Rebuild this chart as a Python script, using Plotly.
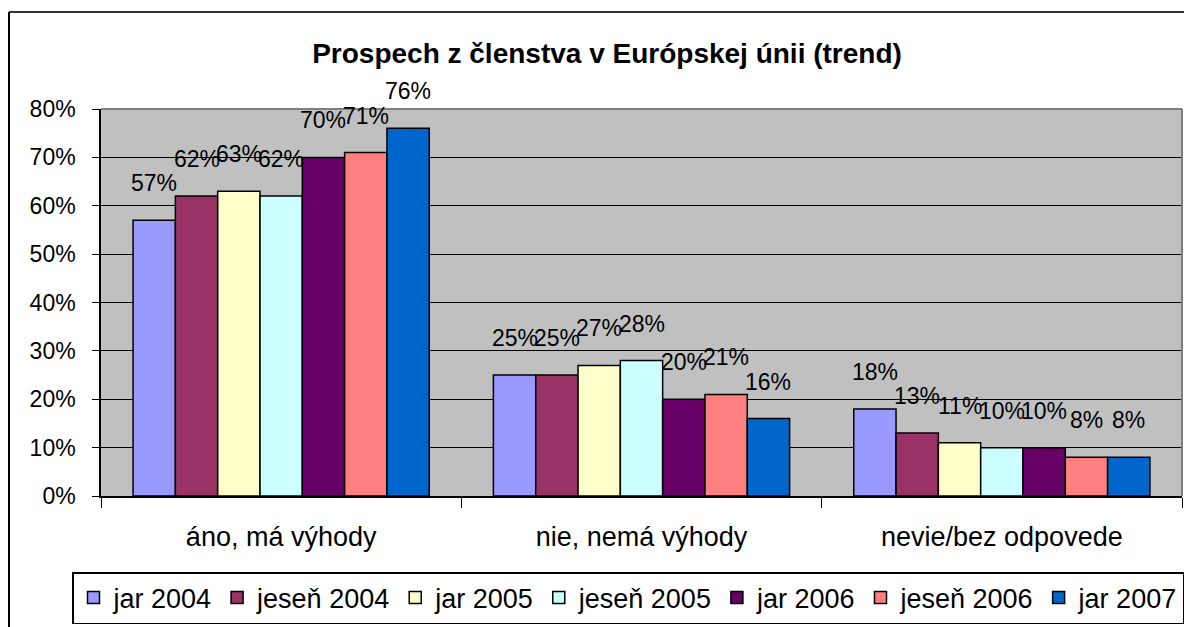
import plotly.graph_objects as go

categories = ["áno, má výhody", "nie, nemá výhody", "nevie/bez odpovede"]
series_names = ["jar 2004", "jeseň 2004", "jar 2005", "jeseň 2005", "jar 2006", "jeseň 2006", "jar 2007"]
jar_2004 = [0.57, 0.25, 0.18]
jesen_2004 = [0.62, 0.25, 0.13]
jar_2005 = [0.63, 0.27, 0.11]
jesen_2005 = [0.62, 0.28, 0.10]
jar_2006 = [0.70, 0.20, 0.10]
jesen_2006 = [0.71, 0.21, 0.08]
jar_2007 = [0.76, 0.16, 0.08]
series_values = [jar_2004, jesen_2004, jar_2005, jesen_2005, jar_2006, jesen_2006, jar_2007]
colors = ["#9999FF", "#993366", "#FFFFCC", "#CCFFFF", "#660066", "#FF8080", "#0066CC"]
y_tickvals = [0, 0.1, 0.2, 0.3, 0.4, 0.5, 0.6, 0.7, 0.8]

W, H = 1184, 627
L, R, T, B = 101, 1182, 109, 496
BARGAP = 0.178
FONT = "Liberation Sans, Arial, sans-serif"

def px_x(px):
    return (px - L) / (R - L)

def px_y(py):
    return (B - py) / (B - T)

fig = go.Figure()
for name, vals, col in zip(series_names, series_values, colors):
    fig.add_trace(go.Bar(
        name=name, x=categories, y=vals,
        marker=dict(color=col, line=dict(color="black", width=1.5)),
        hoverinfo="skip",
    ))

# data labels as annotations, offset like the grouped bars
group_px = (R - L) / len(categories)
bar_px = group_px * (1 - BARGAP) / len(series_names)
n = len(series_names)
for i, vals in enumerate(series_values):
    xshift = (i - (n - 1) / 2) * bar_px
    for c, v in zip(categories, vals):
        fig.add_annotation(
            x=c, y=v, xref="x", yref="y", text=f"{round(v*100)}%",
            showarrow=False, yanchor="bottom", xanchor="center",
            xshift=xshift, yshift=22,
            font=dict(family=FONT, size=23, color="black"),
        )

# plot area top/right gray border
fig.add_shape(type="line", xref="paper", yref="paper", x0=0, x1=1, y0=1, y1=1,
              line=dict(color="#808080", width=2))
fig.add_shape(type="line", xref="paper", yref="paper", x0=1, x1=1, y0=0, y1=1,
              line=dict(color="#808080", width=2))
# outer chart frame
fig.add_shape(type="line", xref="paper", yref="paper", x0=px_x(9), x1=px_x(1200),
              y0=px_y(12), y1=px_y(12), line=dict(color="#333333", width=2))
fig.add_shape(type="line", xref="paper", yref="paper", x0=px_x(9), x1=px_x(9),
              y0=px_y(12), y1=px_y(640), line=dict(color="black", width=2))

fig.update_layout(
    width=W, height=H,
    margin=dict(l=L, r=W - R, t=T, b=H - B, pad=0),
    paper_bgcolor="white", plot_bgcolor="#C0C0C0",
    barmode="group", bargap=BARGAP, bargroupgap=0,
    font=dict(family=FONT, color="black"),
    hovermode=False,
    title=dict(text="<b>Prospech z členstva v Európskej únii (trend)</b>",
               x=607 / W, xref="container", xanchor="center",
               y=1 - 53 / H, yref="container", yanchor="middle",
               font=dict(family=FONT, size=28, color="black")),
    showlegend=True,
    legend=dict(orientation="h", x=px_x(73), xanchor="left", y=px_y(572), yanchor="top",
                bordercolor="black", borderwidth=1.5, bgcolor="white",
                font=dict(family=FONT, size=27, color="black"),
                traceorder="normal"),
    xaxis=dict(type="category", showline=True, linecolor="black", linewidth=1.5,
               ticks="outside", tickson="boundaries", ticklen=10, tickcolor="black",
               tickfont=dict(family=FONT, size=27, color="black"),
               ticklabelstandoff=16, showgrid=False, fixedrange=True),
    yaxis=dict(range=[0, 0.8], tickvals=y_tickvals, tickformat=".0%",
               showline=True, linecolor="black", linewidth=1.5,
               ticks="outside", ticklen=7, tickcolor="black",
               tickfont=dict(family=FONT, size=23, color="black"),
               ticklabelstandoff=12, fixedrange=True,
               showgrid=True, gridcolor="black", gridwidth=1, zeroline=False),
)

fig.write_html("out.html", config={"displayModeBar": False, "staticPlot": False},
               post_script="document.body.style.margin='0';document.body.style.overflow='hidden';")
